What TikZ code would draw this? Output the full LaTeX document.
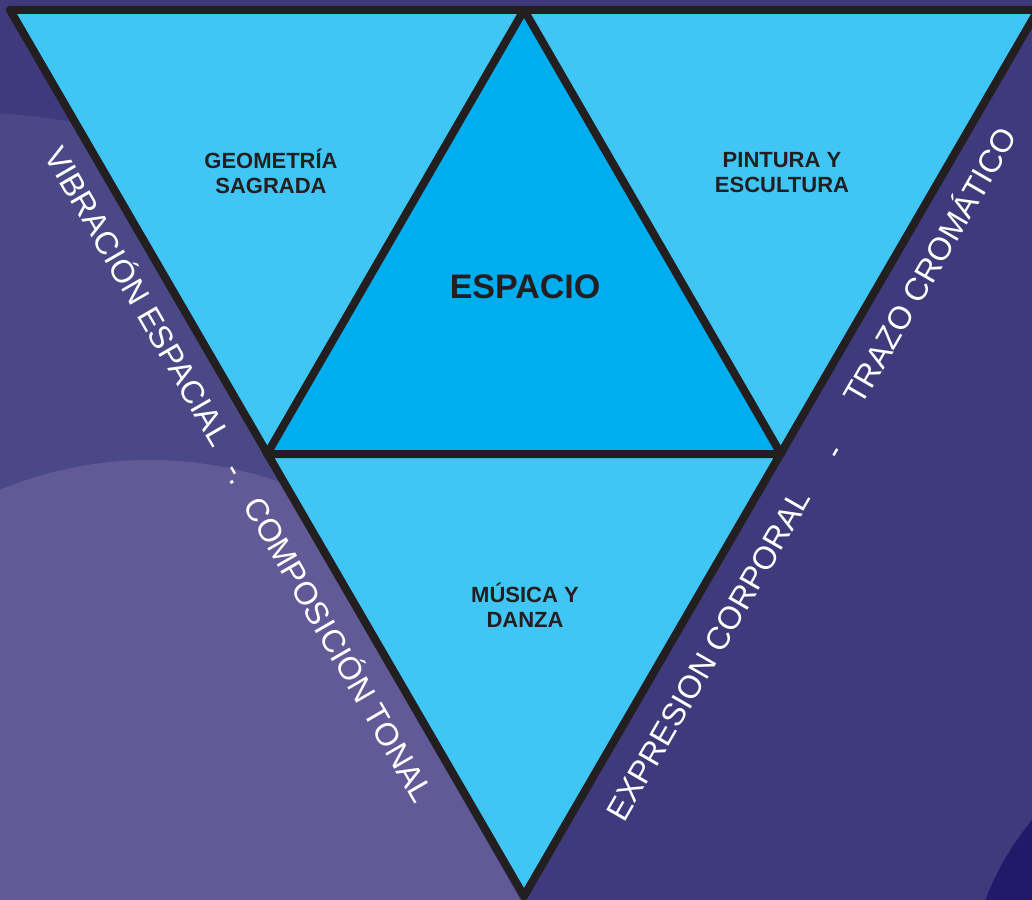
\documentclass[tikz,border=0pt]{standalone}
\usepackage{fontspec}
\setmainfont{Liberation Sans}
\definecolor{bgdark}{HTML}{3E3A7C}
\definecolor{bgmid}{HTML}{4B4887}
\definecolor{bglight}{HTML}{625A96}
\definecolor{bgdeep}{HTML}{201A6A}
\definecolor{cyanlight}{HTML}{40C6F4}
\definecolor{cyandeep}{HTML}{00ADEE}
\definecolor{ink}{HTML}{231F20}
\begin{document}
\begin{tikzpicture}[x=1pt,y=-1pt,
  edge/.style={draw=ink,line width=8pt,line join=round},
  inlabel/.style={font=\bfseries\fontsize{22}{25}\selectfont,text=ink,align=center,inner sep=0pt,anchor=base},
  sidelabel/.style={font=\fontsize{32}{38}\selectfont,text=white,inner sep=0pt,anchor=base}]
\useasboundingbox (0,0) rectangle (1032,899);
\fill[bgdark] (-6,-6) rectangle (1040,906);
\begin{scope}
  \clip (-6,-6) -- (10,10) -- (524,906) -- (-6,906) -- cycle;
  \fill[bgmid] (-60,900) circle (789pt);
  \fill[bglight] (150,850) circle (390pt);
\end{scope}
\fill[bgdeep] (1248,1000) circle (281pt);
% triangle corners
\coordinate (TL) at (10,10);
\coordinate (TR) at (1038,10);
\coordinate (BT) at (524,896);
\coordinate (MT) at (524,10);
\coordinate (ML) at (267,454);
\coordinate (MR) at (781,454);
\fill[cyanlight] (TL) -- (TR) -- (BT) -- cycle;
\fill[cyandeep] (MT) -- (MR) -- (ML) -- cycle;
\draw[edge] (TL) -- (TR) -- (BT) -- cycle;
\draw[edge] (MT) -- (MR) -- (ML) -- cycle;
% inner labels
\node[inlabel] (geo) at (271,193) {GEOMETRÍA\\SAGRADA};
\node[inlabel] (pin) at (782,192) {PINTURA Y\\ESCULTURA};
\node[inlabel] (mus) at (525,627) {MÚSICA Y\\DANZA};
\node[font=\bfseries\fontsize{34}{40}\selectfont,text=ink,anchor=base,inner sep=0pt] (esp) at (525,298) {ESPACIO};
% side labels
\node[sidelabel,rotate=-60] (vib) at (128.5,302) {VIBRACIÓN ESPACIAL};
\node[sidelabel,rotate=-60] (sepl) at (228,479) {-.};
\node[sidelabel,rotate=-60] (com) at (329,655) {COMPOSICIÓN TONAL};
\node[sidelabel,rotate=60] (expr) at (718,661) {EXPRESION CORPORAL};
\node[sidelabel,rotate=60] (sepr) at (843,457) {-};
\node[sidelabel,rotate=60] (tra) at (940,271.5) {TRAZO CROMÁTICO};
\end{tikzpicture}
\end{document}
